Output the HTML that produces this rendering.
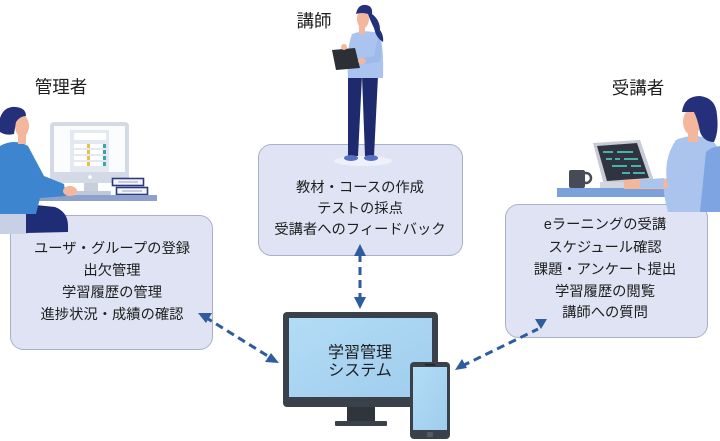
<!DOCTYPE html>
<html><head><meta charset="utf-8"><style>
html,body{margin:0;padding:0;background:#fff;width:720px;height:441px;overflow:hidden}
svg{display:block}
text{font-family:"Liberation Sans","Noto Sans CJK JP",sans-serif;fill:#1e1e1e}
</style></head><body>
<svg width="720" height="441" viewBox="0 0 720 441" xmlns="http://www.w3.org/2000/svg">
<defs>
<linearGradient id="scr" x1="0" y1="0" x2="1" y2="1">
<stop offset="0" stop-color="#b3dcf5"/><stop offset="1" stop-color="#9fcdee"/>
</linearGradient>
</defs>
<!-- boxes -->
<rect x="10.5" y="215.5" width="202" height="134" rx="13" fill="#dfe3f3" stroke="#a9b0c9"/>
<rect x="258.5" y="144.5" width="204" height="111" rx="13" fill="#dfe3f3" stroke="#a9b0c9"/>
<rect x="505.5" y="204.5" width="202" height="133" rx="13" fill="#dfe3f3" stroke="#a9b0c9"/>

<!-- labels -->
<text x="61" y="87" font-size="17.5" text-anchor="middle" dominant-baseline="central">管理者</text>
<text x="314" y="21" font-size="17.5" text-anchor="middle" dominant-baseline="central">講師</text>
<text x="638" y="88" font-size="17.5" text-anchor="middle" dominant-baseline="central">受講者</text>

<!-- box texts -->
<g font-size="14.3" text-anchor="middle" dominant-baseline="central">
<text x="112" y="249">ユーザ・グループの登録</text>
<text x="112" y="271">出欠管理</text>
<text x="112" y="293">学習履歴の管理</text>
<text x="112" y="315">進捗状況・成績の確認</text>
<text x="360" y="188">教材・コースの作成</text>
<text x="360" y="209">テストの採点</text>
<text x="360" y="230">受講者へのフィードバック</text>
<text x="605" y="225">eラーニングの受講</text>
<text x="605" y="248">スケジュール確認</text>
<text x="605" y="270">課題・アンケート提出</text>
<text x="605" y="292">学習履歴の閲覧</text>
<text x="605" y="313">講師への質問</text>
</g>

<!-- admin illustration -->
<g>
<rect x="50" y="122" width="79" height="61" rx="4" fill="#d4d9e6"/>
<rect x="54" y="126" width="71" height="46" fill="#fbfcfe"/>
<rect x="70" y="130" width="39" height="42" fill="#e4e8f0"/>
<rect x="74" y="133" width="32" height="7" fill="#fff"/>
<g fill="#fff">
<rect x="74" y="144" width="32" height="4"/><rect x="74" y="150" width="32" height="4"/>
<rect x="74" y="156" width="32" height="4"/><rect x="74" y="162" width="32" height="4"/>
</g>
<g fill="#e6c24a"><rect x="87" y="144" width="3" height="4"/><rect x="87" y="150" width="3" height="4"/><rect x="87" y="156" width="3" height="4"/><rect x="87" y="162" width="3" height="4"/></g>
<g fill="#3aa6a8"><rect x="103" y="144" width="3" height="4"/><rect x="103" y="150" width="3" height="4"/><rect x="103" y="156" width="3" height="4"/><rect x="103" y="162" width="3" height="4"/></g>
<circle cx="90" cy="177" r="1.8" fill="#fff"/>
<rect x="84" y="183" width="14" height="9" fill="#c8cedb"/>
<rect x="75" y="191" width="36" height="4" rx="1" fill="#c0c7d6"/>
<rect x="112.5" y="178.5" width="31" height="7" fill="#f4f6fb" stroke="#2b3a80" stroke-width="1.6"/>
<rect x="116.5" y="187.5" width="31" height="7" fill="#f4f6fb" stroke="#2b3a80" stroke-width="1.6"/>
<line x1="118" y1="182" x2="138" y2="182" stroke="#9aa4c4"/>
<line x1="122" y1="191" x2="142" y2="191" stroke="#9aa4c4"/>
<rect x="32" y="195" width="125" height="6" fill="#8ea0cc"/>
<!-- chair -->
<path d="M-4,157 L20,157 Q28,160 28,170 L28,234 L-4,234 Z" fill="#c7d0e6"/>
<!-- pants -->
<path d="M26,204 L55,207 Q68,212 68,226 L68,232 L26,233 Z" fill="#1f2c76"/>
<!-- body -->
<path d="M0,146 Q14,138 28,146 L44,176 L64,184 L66,196 L40,198 L36,214 L24,214 L20,170 L0,170 Z" fill="#3d86cf"/>
<path d="M0,146 L20,150 L26,214 L0,214 Z" fill="#3d86cf"/>
<ellipse cx="70" cy="191" rx="7" ry="5" fill="#f3b79e"/>
<!-- head -->
<rect x="18" y="130" width="8" height="14" fill="#f3b79e"/>
<ellipse cx="22" cy="126" rx="7" ry="11" fill="#f3b79e"/>
<path d="M0,118 Q4,106 16,107 Q26,108 26,116 Q20,116 16,122 L14,134 Q6,136 0,132 Z" fill="#24307a"/>
</g>

<!-- teacher illustration -->
<g>
<ellipse cx="363" cy="161" rx="29" ry="5" fill="#eef1f9"/>
<path d="M348,76 L362,76 L358,156 L348,156 Z" fill="#1f2a6e"/>
<path d="M362,76 L378,76 L374,156 L365,156 Z" fill="#1f2a6e"/>
<ellipse cx="351" cy="158" rx="7" ry="3" fill="#5570c0"/>
<ellipse cx="371" cy="158" rx="7" ry="3" fill="#5570c0"/>
<path d="M352,34 Q364,29 378,33 Q384,40 383,78 L348,78 Q346,50 352,34 Z" fill="#aac4ef"/>
<path d="M378,36 Q384,48 380,62 L364,64 L362,58 L374,56 Z" fill="#9fbaea"/>
<polygon points="332,50 355,48 360,68 336,70" fill="#2c2f34"/>
<ellipse cx="362" cy="61" rx="4" ry="3" fill="#f3b79e"/>
<ellipse cx="344" cy="47" rx="3" ry="3" fill="#f3b79e"/>
<rect x="359" y="24" width="6" height="10" fill="#f3b79e"/>
<ellipse cx="363" cy="19" rx="6" ry="9" fill="#f3b79e"/>
<path d="M356,14 Q358,4 366,5 Q373,6 372,14 Q380,20 380,30 Q384,36 383,42 Q376,38 374,28 Q370,20 368,14 Q362,12 356,14 Z" fill="#24307a"/>
</g>

<!-- student illustration -->
<g>
<rect x="557" y="188" width="121" height="9" fill="#7ba1dd"/>
<rect x="569" y="170" width="16" height="18" rx="2" fill="#474b57"/>
<circle cx="586" cy="178" r="5" fill="none" stroke="#474b57" stroke-width="2.5"/>
<polygon points="593,143 640,140 654,181 604,185" fill="#c8cbd3"/>
<polygon points="597,146 637,143 649,178 607,181" fill="#2f3440"/>
<rect x="600" y="182" width="60" height="6" fill="#d3d6dd"/>
<g stroke="#4cc0b6" stroke-width="1.8">
<line x1="603" y1="152" x2="613" y2="152"/><line x1="617" y1="152" x2="633" y2="152"/>
<line x1="606" y1="159" x2="612" y2="159"/><line x1="615" y1="159" x2="620" y2="159"/><line x1="624" y1="159" x2="638" y2="159"/>
<line x1="612" y1="166" x2="627" y2="166"/><line x1="631" y1="166" x2="641" y2="166"/>
<line x1="622" y1="173" x2="630" y2="173"/><line x1="633" y1="173" x2="645" y2="173"/>
</g>
<path d="M624,180 L680,178 L680,189 L624,189 Z" fill="#f3b79e"/>
<path d="M676,140 Q694,132 712,140 L720,150 L720,212 L668,212 Q662,190 664,178 L640,180 L640,188 L668,188 Q662,160 676,140 Z" fill="#aac4ee"/>
<path d="M706,152 Q712,146 722,146 L722,212 L700,212 Z" fill="#7fa4e2"/>
<rect x="688" y="128" width="10" height="14" fill="#f3b79e"/>
<ellipse cx="692" cy="122" rx="9" ry="13" fill="#f3b79e"/>
<path d="M682,112 Q684,96 700,96 Q716,98 717,115 Q719,132 714,142 Q704,142 700,132 Q698,120 694,112 Q688,112 682,112 Z" fill="#24307a"/>
</g>

<!-- system -->
<g>
<rect x="283" y="312" width="155" height="95" rx="4" fill="#3b414b"/>
<rect x="289" y="318" width="143" height="79" fill="url(#scr)"/>
<rect x="347" y="407" width="28" height="14" fill="#2f343d"/>
<rect x="335" y="421" width="52" height="5" rx="1" fill="#3b414b"/>
<text x="360" y="353" font-size="16" text-anchor="middle" dominant-baseline="central">学習管理</text>
<text x="360" y="371" font-size="16" text-anchor="middle" dominant-baseline="central">システム</text>
<rect x="410" y="362" width="40" height="77" rx="4" fill="#3b414b"/>
<rect x="413" y="367" width="34" height="63" fill="url(#scr)"/>
<rect x="425" y="364" width="10" height="1.5" fill="#222"/>
<rect x="427" y="432" width="6" height="5" rx="1" fill="#555b66"/>
</g>

<!-- connectors -->
<g stroke="#2d5d9c" stroke-width="3" stroke-dasharray="8,5" fill="none">
<line x1="205" y1="317" x2="271" y2="358"/>
<line x1="360" y1="254" x2="360" y2="300"/>
<line x1="462" y1="366" x2="538" y2="329"/>
</g>
<g fill="#2d5d9c">
<polygon points="198,313 212,313 206,323"/>
<polygon points="279,363 265,362 271,353"/>
<polygon points="360,244 354,256 366,256"/>
<polygon points="360,309 354,297 366,297"/>
<polygon points="455,370 462,359 467,368"/>
<polygon points="535,319 547,319 541,329"/>
</g>
</svg>
</body></html>
